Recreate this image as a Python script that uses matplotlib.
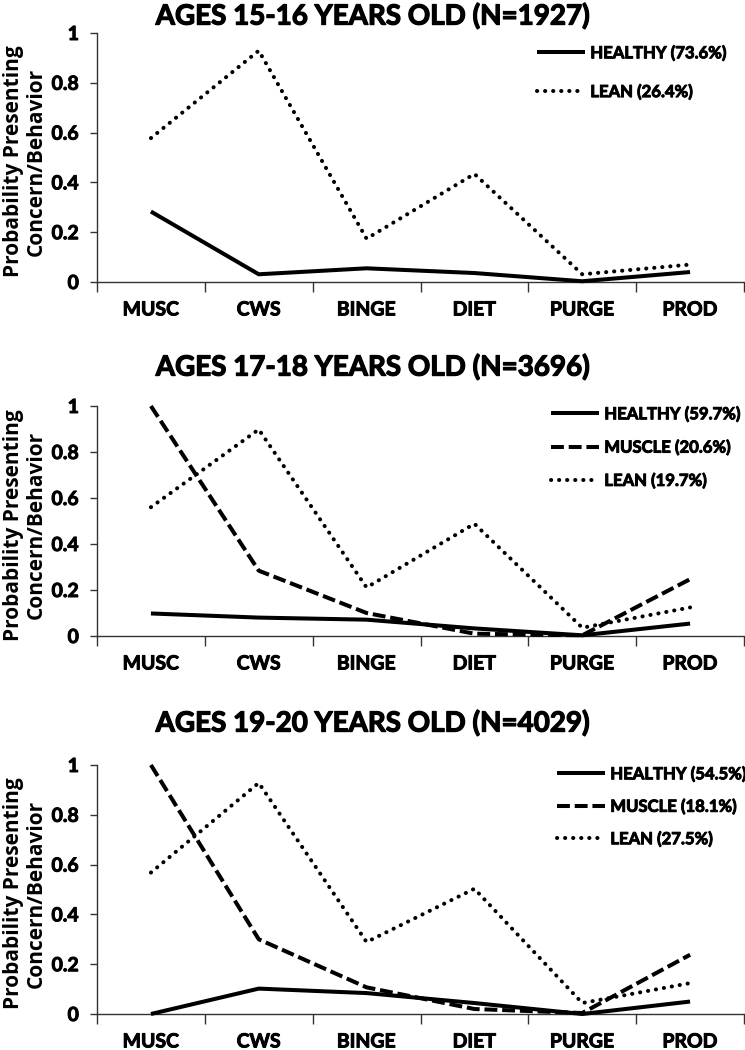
import os
import numpy as np
import matplotlib
matplotlib.use("Agg")
import matplotlib.pyplot as plt
import matplotlib.font_manager as fm
import matplotlib.patheffects as pe
from matplotlib.font_manager import FontProperties

# ---------------- data ----------------
categories = ["MUSC", "CWS", "BINGE", "DIET", "PURGE", "PROD"]

titles = ["AGES 15-16 YEARS OLD (N=1927)",
          "AGES 17-18 YEARS OLD (N=3696)",
          "AGES 19-20 YEARS OLD (N=4029)"]

# panel 1 (ages 15-16)
p1_healthy = [0.283, 0.031, 0.055, 0.036, 0.003, 0.040]
p1_lean    = [0.578, 0.929, 0.174, 0.434, 0.031, 0.070]
p1_labels  = ["HEALTHY (73.6%)", "LEAN (26.4%)"]

# panel 2 (ages 17-18)
p2_healthy = [0.098, 0.080, 0.071, 0.033, 0.003, 0.054]
p2_muscle  = [1.000, 0.284, 0.100, 0.010, 0.003, 0.247]
p2_lean    = [0.560, 0.898, 0.211, 0.488, 0.036, 0.124]
p2_labels  = ["HEALTHY (59.7%)", "MUSCLE (20.6%)", "LEAN (19.7%)"]

# panel 3 (ages 19-20)
p3_healthy = [0.000, 0.102, 0.084, 0.044, 0.000, 0.050]
p3_muscle  = [1.000, 0.300, 0.107, 0.020, 0.004, 0.238]
p3_lean    = [0.568, 0.928, 0.289, 0.503, 0.044, 0.124]
p3_labels  = ["HEALTHY (54.5%)", "MUSCLE (18.1%)", "LEAN (27.5%)"]

y_ticks = [0, 0.2, 0.4, 0.6, 0.8, 1]
y_tick_labels = ["0", "0.2", "0.4", "0.6", "0.8", "1"]
ylabel_text = "Probability Presenting\nConcern/Behavior"

# ---------------- fonts ----------------
def find_font(basenames):
    for f in fm.fontManager.ttflist:
        if os.path.basename(f.fname).lower() in basenames:
            return f.fname
    return None

lato_bold = find_font({"lato-bold.ttf", "lato-bold.otf"})
roboto_bold = find_font({"roboto-bold.ttf"})

def main_font(size):
    if lato_bold:
        return FontProperties(fname=lato_bold, size=size)
    if roboto_bold:
        return FontProperties(fname=roboto_bold, size=size)
    return FontProperties(family="DejaVu Sans", weight="bold", size=size)

def ylab_font(size):
    return FontProperties(family=["Open Sans", "DejaVu Sans"], weight="bold", size=size)

HEAVY = [pe.withStroke(linewidth=0.7, foreground="black")]

# ---------------- styles ----------------
W, H = 745, 1050
DPI = 100
LW = 2.9

style = {
    "healthy": dict(color="black", lw=LW, ls="-", solid_capstyle="butt"),
    "muscle": dict(color="black", lw=LW, ls=(0, (3.2, 1.2)), dash_capstyle="butt"),
    "lean": dict(color="black", lw=LW, ls=(0, (0.05, 1.95)), dash_capstyle="round"),
}

fig = plt.figure(figsize=(W / DPI, H / DPI), dpi=DPI)
fig.patch.set_facecolor("white")

def fx(px):
    return px / W

def fy(py):
    return 1 - py / H

ax_left, ax_right = 97, 744
panels_px = [(33, 282), (406, 636), (765, 1014)]
title_y_px = [16, 367, 723]
legend_px = [  # (handle left x, top y, labelspacing)
    (537, 45, 1.35),
    (551, 406, 1.02),
    (557, 766, 0.97),
]

series_sets = [
    [("healthy", p1_healthy), ("lean", p1_lean)],
    [("healthy", p2_healthy), ("muscle", p2_muscle), ("lean", p2_lean)],
    [("healthy", p3_healthy), ("muscle", p3_muscle), ("lean", p3_lean)],
]
label_sets = [p1_labels, p2_labels, p3_labels]

x = np.arange(len(categories))

for i, ((top, bot), series, labels) in enumerate(zip(panels_px, series_sets, label_sets)):
    ax = fig.add_axes([fx(ax_left), fy(bot), fx(ax_right - ax_left), (bot - top) / H])
    handles = []
    for (kind, vals), lab in zip(series, labels):
        ln, = ax.plot(x, vals, label=lab, clip_on=False, zorder=3, **style[kind])
        handles.append(ln)

    ax.set_xlim(-0.5, len(categories) - 0.5)
    ax.set_ylim(0, 1)
    for s in ["top", "right"]:
        ax.spines[s].set_visible(False)
    for s in ["left", "bottom"]:
        ax.spines[s].set_linewidth(1.0)
        ax.spines[s].set_color("#333333")

    ax.set_xticks(x)
    ax.set_xticklabels(categories, fontproperties=main_font(14))
    ax.tick_params(axis="x", which="major", length=0, pad=14)
    ax.set_xticks(np.arange(-0.5, len(categories), 1), minor=True)
    ax.tick_params(axis="x", which="minor", length=7, width=1.0, color="#333333", direction="out")

    ax.set_yticks(y_ticks)
    ax.set_yticklabels(y_tick_labels, fontproperties=main_font(14))
    ax.tick_params(axis="y", which="major", length=5, width=1.0, color="#333333", pad=8, direction="out")
    for t in ax.get_xticklabels() + ax.get_yticklabels():
        t.set_path_effects(HEAVY)

    t = fig.text(0.5, fy(title_y_px[i]), titles[i], ha="center", va="center",
                 fontproperties=main_font(20))
    t.set_path_effects([pe.withStroke(linewidth=0.9, foreground="black")])

    fig.text(fx(25), fy((top + bot) / 2 + 4), ylabel_text, rotation=90, ha="center", va="center",
             fontproperties=ylab_font(15), linespacing=1.15, multialignment="center")

    lx, ly, lsp = legend_px[i]
    leg = fig.legend(handles=handles, loc="upper left",
                     bbox_to_anchor=(fx(lx), fy(ly)), bbox_transform=fig.transFigure,
                     frameon=False, borderpad=0, borderaxespad=0,
                     handlelength=2.9, handletextpad=0.3, labelspacing=lsp,
                     prop=main_font(12))
    for t in leg.get_texts():
        t.set_path_effects(HEAVY)

fig.savefig("out.png", dpi=DPI, facecolor="white")
